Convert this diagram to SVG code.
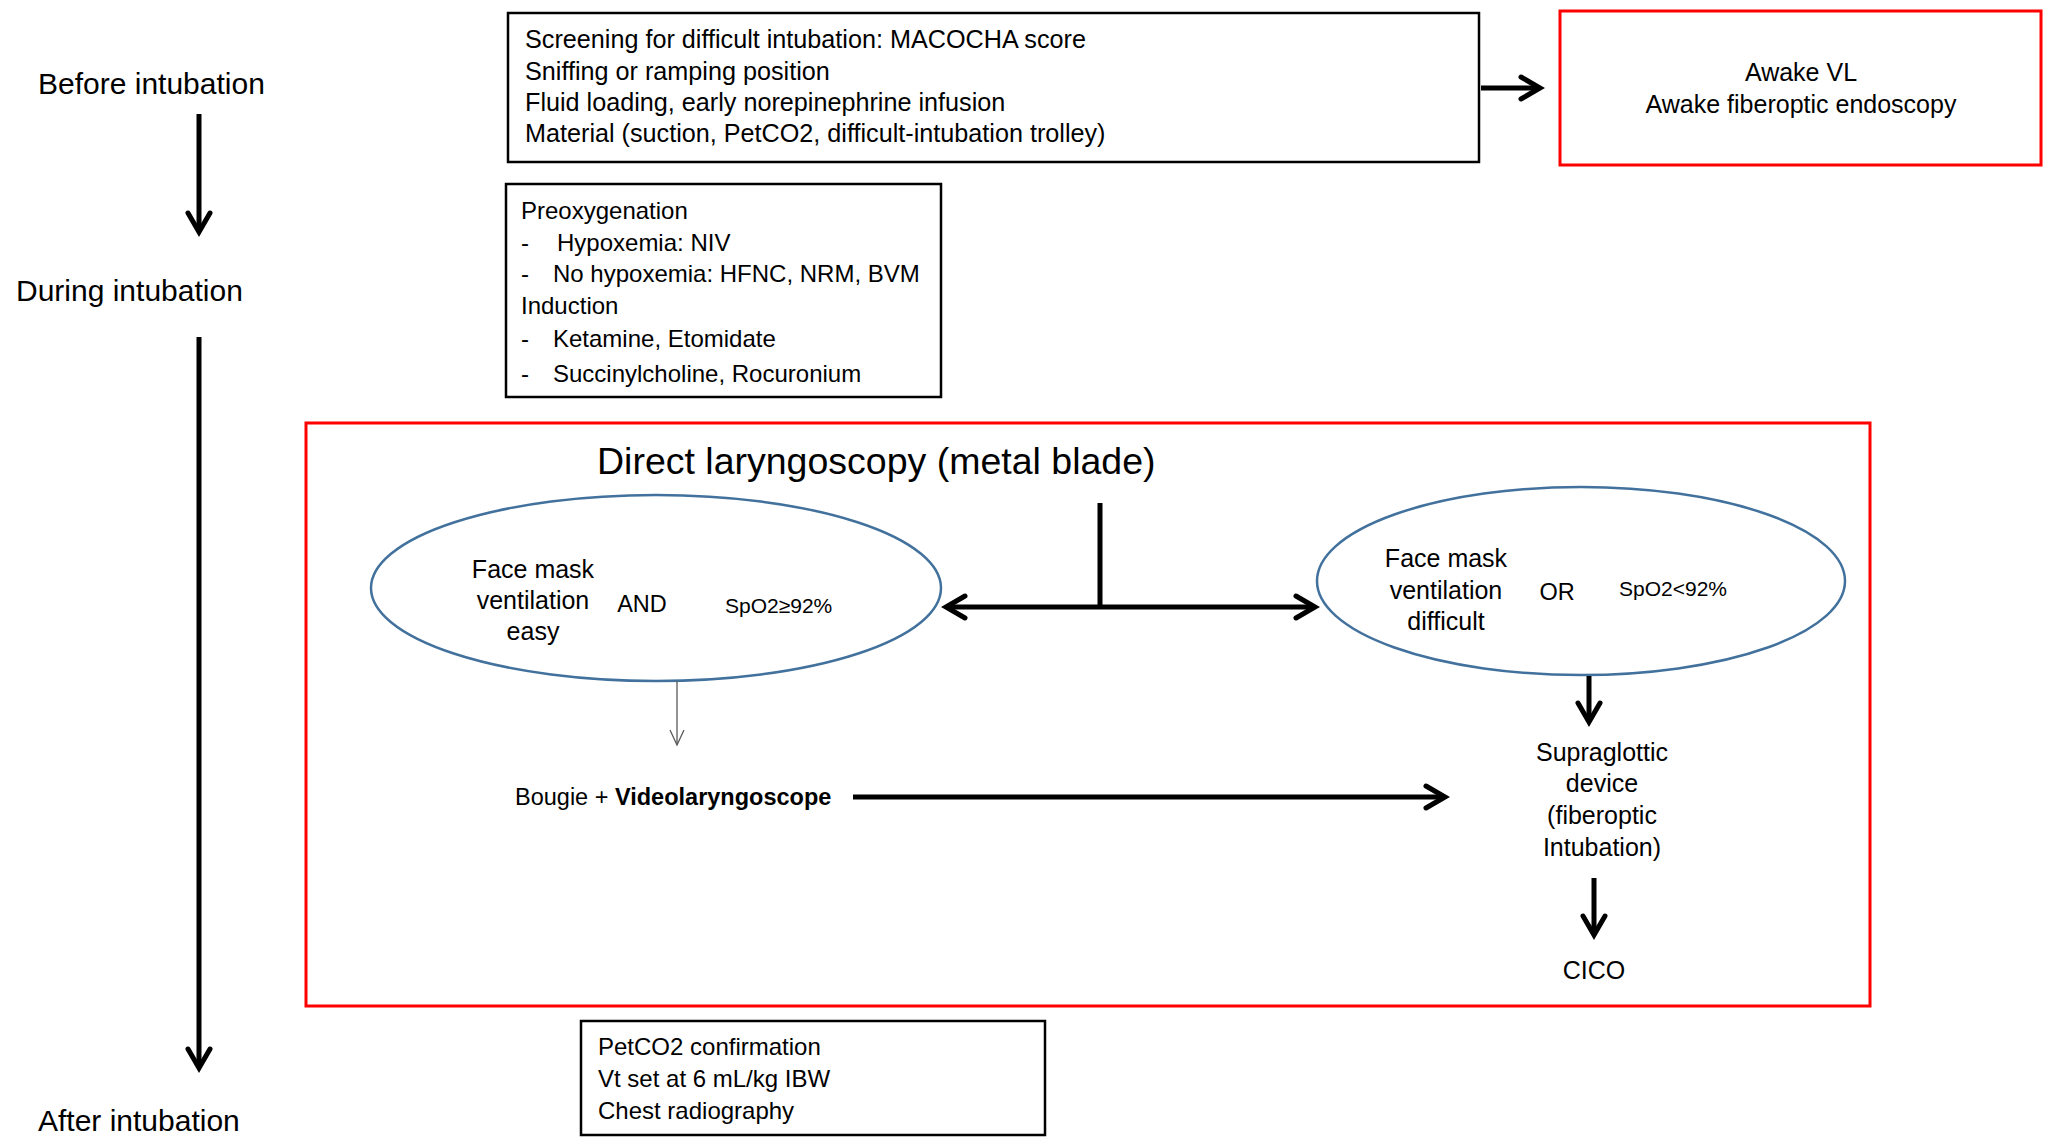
<svg xmlns="http://www.w3.org/2000/svg" width="2049" height="1137" viewBox="0 0 2049 1137">
  <style>
    text { font-family: "Liberation Sans", Arial, sans-serif; fill: #000; }
    .phase { font-size: 30px; }
    .t24 { font-size: 24px; }
    .t25 { font-size: 25px; }
    .prep { font-size: 25.2px; }
    .sp { font-size: 21px; }
    .mid { text-anchor: middle; }
    .box { fill: #fff; stroke: #000; stroke-width: 2.5; }
    .redbox { fill: none; stroke: #ff0000; stroke-width: 3; }
    .oval { fill: #fff; stroke: #41719c; stroke-width: 2.5; }
    .thick { fill: none; stroke: #000; stroke-width: 5; }
    .thin { fill: none; stroke: #595959; stroke-width: 1.3; }
  </style>
  <defs>
    <marker id="head" markerUnits="userSpaceOnUse" viewBox="0 0 26 26" refX="21" refY="13" markerWidth="26" markerHeight="26" orient="auto-start-reverse" overflow="visible">
      <path d="M2,2 L21,13 L2,24" fill="none" stroke="#000" stroke-width="5" stroke-linecap="round" stroke-linejoin="miter"/>
    </marker>
    <marker id="thinhead" markerUnits="userSpaceOnUse" viewBox="0 0 16 16" refX="15" refY="8" markerWidth="16" markerHeight="16" orient="auto" overflow="visible">
      <path d="M0,1 L15,8 L0,15" fill="none" stroke="#595959" stroke-width="1.3"/>
    </marker>
  </defs>
  <rect width="2049" height="1137" fill="#fff"/>

  <!-- phase labels -->
  <g id="phase-before"><text class="phase" x="38" y="94">Before intubation</text></g>
  <g id="phase-during"><text class="phase" x="16" y="301">During intubation</text></g>
  <g id="phase-after"><text class="phase" x="38" y="1131">After intubation</text></g>

  <!-- preparation box -->
  <g id="before-box">
    <rect class="box" x="508" y="13" width="971" height="149"/>
    <text class="prep" x="525" y="48">Screening for difficult intubation: MACOCHA score</text>
    <text class="prep" x="525" y="80">Sniffing or ramping position</text>
    <text class="prep" x="525" y="111">Fluid loading, early norepinephrine infusion</text>
    <text class="prep" x="525" y="142">Material (suction, PetCO2, difficult-intubation trolley)</text>
  </g>

  <!-- awake techniques -->
  <g id="awake-box">
    <rect class="redbox" x="1560" y="11" width="481" height="154"/>
    <text class="t25 mid" x="1801" y="81">Awake VL</text>
    <text class="t25 mid" x="1801" y="113">Awake fiberoptic endoscopy</text>
  </g>

  <!-- preoxygenation / induction -->
  <g id="induction-box">
    <rect class="box" x="506" y="184" width="435" height="213"/>
    <text class="t24" x="521" y="219">Preoxygenation</text>
    <text class="t24" x="521" y="251">-</text><text class="t24" x="557" y="251">Hypoxemia: NIV</text>
    <text class="t24" x="521" y="282">-</text><text class="t24" x="553" y="282">No hypoxemia: HFNC, NRM, BVM</text>
    <text class="t24" x="521" y="314">Induction</text>
    <text class="t24" x="521" y="347">-</text><text class="t24" x="553" y="347">Ketamine, Etomidate</text>
    <text class="t24" x="521" y="382">-</text><text class="t24" x="553" y="382">Succinylcholine, Rocuronium</text>
  </g>

  <!-- laryngoscopy frame -->
  <g id="laryngoscopy-frame">
    <rect class="redbox" x="306" y="423" width="1564" height="583"/>
    <text x="597" y="474" style="font-size:37.5px">Direct laryngoscopy (metal blade)</text>
  </g>

  <g id="easy-oval">
    <ellipse class="oval" cx="656" cy="588" rx="285" ry="93"/>
    <text class="t25 mid" x="533" y="578">Face mask</text>
    <text class="t25 mid" x="533" y="609">ventilation</text>
    <text class="t25 mid" x="533" y="640">easy</text>
    <text class="t24 mid" style="font-size:23.5px" x="642" y="612">AND</text>
    <text class="sp" x="725" y="613">SpO2≥92%</text>
  </g>

  <g id="difficult-oval">
    <ellipse class="oval" cx="1581" cy="581" rx="264" ry="94"/>
    <text class="t25 mid" x="1446" y="567">Face mask</text>
    <text class="t25 mid" x="1446" y="599">ventilation</text>
    <text class="t25 mid" x="1446" y="630">difficult</text>
    <text class="t24 mid" style="font-size:23.5px" x="1557" y="600">OR</text>
    <text class="sp" x="1619" y="596">SpO2&lt;92%</text>
  </g>

  <g id="bougie">
    <text x="515" y="805" style="font-size:23.5px">Bougie + <tspan font-weight="bold">Videolaryngoscope</tspan></text>
  </g>

  <g id="supraglottic">
    <text class="t25 mid" x="1602" y="761">Supraglottic</text>
    <text class="t25 mid" x="1602" y="792">device</text>
    <text class="t25 mid" x="1602" y="824">(fiberoptic</text>
    <text class="t25 mid" x="1602" y="856">Intubation)</text>
  </g>

  <g id="cico"><text class="t25 mid" x="1594" y="979">CICO</text></g>

  <!-- post-intubation box -->
  <g id="after-box">
    <rect class="box" x="581" y="1021" width="464" height="114"/>
    <text class="t24" x="598" y="1055">PetCO2 confirmation</text>
    <text class="t24" x="598" y="1087">Vt set at 6 mL/kg IBW</text>
    <text class="t24" x="598" y="1119">Chest radiography</text>
  </g>

  <!-- connectors -->
  <g id="connectors">
    <line class="thick" x1="199" y1="114" x2="199" y2="232" marker-end="url(#head)"/>
    <line class="thick" x1="199" y1="337" x2="199" y2="1068" marker-end="url(#head)"/>
    <line class="thick" x1="1481" y1="88" x2="1540" y2="88" marker-end="url(#head)"/>
    <line class="thick" x1="1100" y1="503" x2="1100" y2="607"/>
    <line class="thick" x1="946" y1="607" x2="1315" y2="607" marker-start="url(#head)" marker-end="url(#head)"/>
    <line class="thin" x1="677" y1="681" x2="677" y2="745" marker-end="url(#thinhead)"/>
    <line class="thick" x1="853" y1="797" x2="1445" y2="797" marker-end="url(#head)"/>
    <line class="thick" x1="1589" y1="676" x2="1589" y2="722" marker-end="url(#head)"/>
    <line class="thick" x1="1594" y1="878" x2="1594" y2="935" marker-end="url(#head)"/>
  </g>
</svg>
